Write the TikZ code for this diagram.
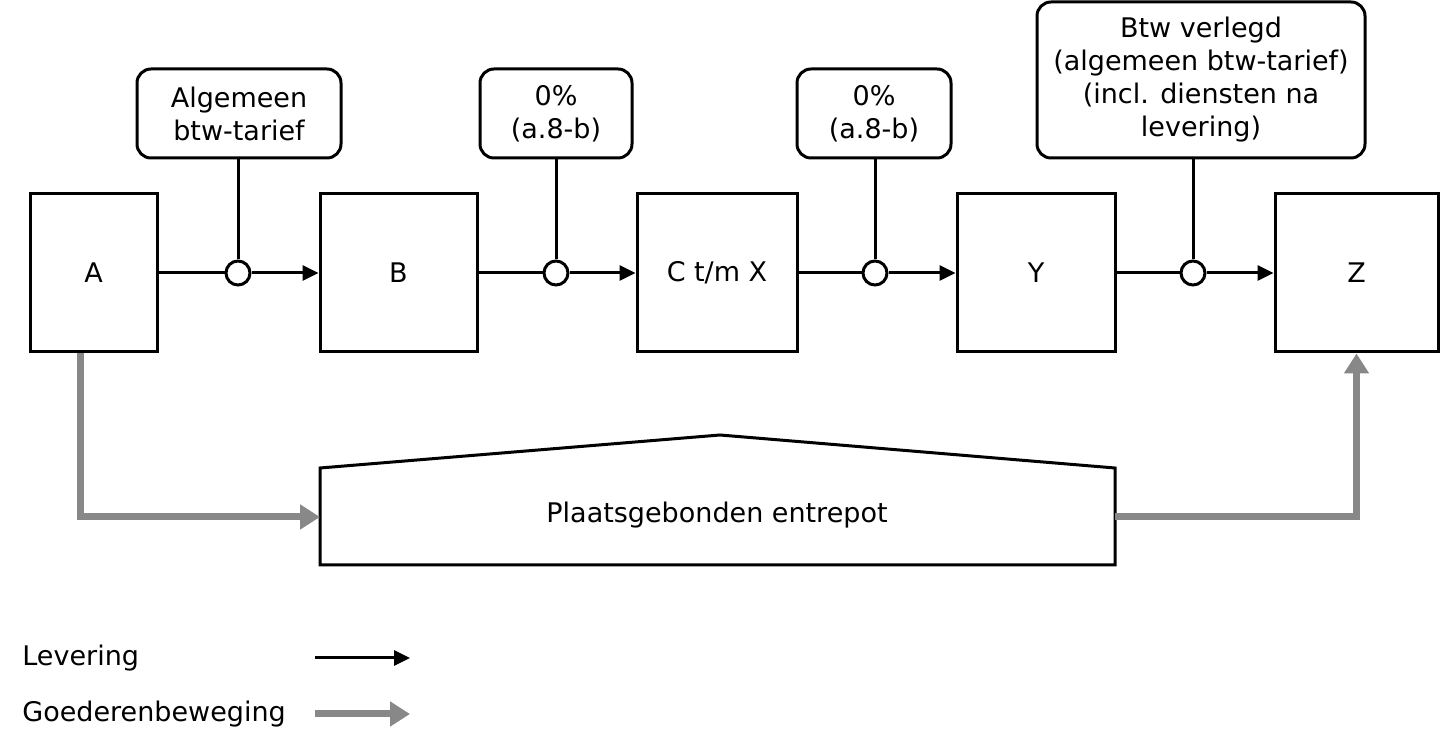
\documentclass[tikz,border=0pt]{standalone}
\usepackage{fontspec}
\setmainfont{DejaVu Sans}
\usetikzlibrary{arrows.meta}
\definecolor{goedgrijs}{RGB}{136,136,136}

\begin{document}
\begin{tikzpicture}[x=0.5pt,y=-0.5pt,
  font=\fontsize{13.5}{16.5}\selectfont,
  partij/.style={draw,line width=1.5pt,minimum height=79pt,inner sep=0pt},
  tarief/.style={draw,line width=1.5pt,rounded corners=7pt,align=center,minimum height=44.5pt,inner sep=0pt},
  knoop/.style={draw,circle,fill=white,line width=1.5pt,minimum size=12pt,inner sep=0pt},
  lijn/.style={line width=1.5pt},
  lev/.style={line width=1.5pt,-{Triangle[length=8pt,width=7.5pt]}},
  goed/.style={goedgrijs,line width=3.5pt,-{Triangle[length=10pt,width=12pt]}}]
\useasboundingbox (0,0) rectangle (1440,747);
% partijen
\node[partij,minimum width=63.5pt] (A) at (93.5,273) {A};
\node[partij,minimum width=78.5pt] (B) at (398.5,273) {B};
\node[partij,minimum width=80pt] (C) at (717,273) {C t/m X};
\node[partij,minimum width=79pt] (Y) at (1036,273) {Y};
\node[partij,minimum width=81.5pt] (Z) at (1356.5,273) {Z};
% tarieven
\node[tarief,minimum width=102pt] (t1) at (239,113.5) {Algemeen\\btw-tarief};
\node[tarief,minimum width=76pt] (t2) at (556,113.5) {0\%\\(a.8-b)};
\node[tarief,minimum width=77pt] (t3) at (874,113.5) {0\%\\(a.8-b)};
\node[tarief,minimum width=164pt,minimum height=78pt] (t4) at (1201,80)
  {Btw verlegd\\(algemeen btw-tarief)\\(incl. diensten na\\levering)};
% leveringen
\node[knoop] (k1) at (238,273) {};
\node[knoop] (k2) at (556,273) {};
\node[knoop] (k3) at (875,273) {};
\node[knoop] (k4) at (1193,273) {};
\draw[lijn] (A.east) -- (k1.west);
\draw[lev] (k1.east) -- (B.west);
\draw[lijn] (B.east) -- (k2.west);
\draw[lev] (k2.east) -- (C.west);
\draw[lijn] (C.east) -- (k3.west);
\draw[lev] (k3.east) -- (Y.west);
\draw[lijn] (Y.east) -- (k4.west);
\draw[lev] (k4.east) -- (Z.west);
\draw[lijn] (t1.south -| k1) -- (k1.north);
\draw[lijn] (t2.south -| k2) -- (k2.north);
\draw[lijn] (t3.south -| k3) -- (k3.north);
\draw[lijn] (t4.south -| k4) -- (k4.north);
% entrepot
\draw[lijn,line join=miter] (320,468) -- (720,435) -- (1115,468) -- (1115,565) -- (320,565) -- cycle;
\node (E) at (717,515) {Plaatsgebonden entrepot};
\coordinate (Ein) at (320,517);
\coordinate (Eout) at (1115,517);
\coordinate (Aaf) at (80,353);
\draw[goed,line join=miter] (Aaf) |- (Ein);
\draw[goed,line join=miter] (Eout) -| (Z.south);
% legenda
\node[anchor=west,inner sep=0pt] (L1) at (22,658) {Levering};
\node[anchor=west,inner sep=0pt] (L2) at (22,714) {Goederenbeweging};
\coordinate (l1a) at (315,658);
\coordinate (l1b) at (410,658);
\coordinate (l2a) at (315,714);
\coordinate (l2b) at (410,714);
\draw[lev] (l1a) -- (l1b);
\draw[goed] (l2a) -- (l2b);
\end{tikzpicture}
\end{document}
